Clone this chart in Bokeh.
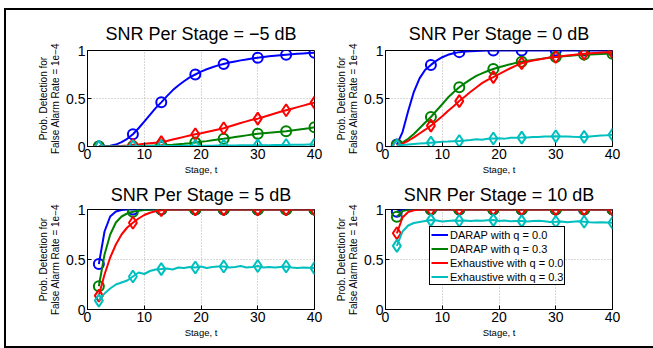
from bokeh.plotting import figure
from bokeh.layouts import row, column
from bokeh.models import Range1d, FixedTicker, Legend, LegendItem, Spacer
from bokeh.embed import file_html
from bokeh.resources import INLINE

# ---------------- data ----------------
t = list(range(2, 41))
marker_t = [2, 8, 13, 19, 24, 30, 35, 40]
x_ticks = [0, 10, 20, 30, 40]
y_ticks = [0, 0.5, 1]

series_names = ["DARAP with q = 0.0", "DARAP with q = 0.3",
                "Exhaustive with q = 0.0", "Exhaustive with q = 0.3"]
titles = ["SNR Per Stage = \u22125 dB", "SNR Per Stage = 0 dB",
          "SNR Per Stage = 5 dB", "SNR Per Stage = 10 dB"]

# SNR = -5 dB
blue_m5 = [0.0, 0.002, 0.008, 0.02, 0.045, 0.08, 0.127, 0.19, 0.26, 0.33, 0.40, 0.46, 0.525, 0.585,
           0.635, 0.68, 0.72, 0.75, 0.78, 0.805, 0.825, 0.845, 0.86, 0.874, 0.886, 0.897, 0.907,
           0.917, 0.925, 0.932, 0.939, 0.945, 0.951, 0.956, 0.961, 0.965, 0.969, 0.973, 0.976]
green_m5 = [0.0, 0.0, 0.0, 0.001, 0.001, 0.002, 0.003, 0.004, 0.006, 0.008, 0.01, 0.012, 0.015,
            0.019, 0.024, 0.029, 0.035, 0.042, 0.049, 0.056, 0.064, 0.072, 0.08, 0.089, 0.098,
            0.107, 0.116, 0.125, 0.133, 0.138, 0.143, 0.148, 0.153, 0.158, 0.166, 0.174, 0.182,
            0.19, 0.2]
red_m5 = [0.0, 0.0, 0.001, 0.003, 0.006, 0.011, 0.017, 0.022, 0.028, 0.034, 0.04, 0.046, 0.058,
          0.072, 0.086, 0.1, 0.114, 0.127, 0.139, 0.152, 0.164, 0.177, 0.19, 0.208, 0.226, 0.244,
          0.262, 0.278, 0.29, 0.308, 0.326, 0.344, 0.362, 0.378, 0.394, 0.41, 0.426, 0.442, 0.457]
cyan_m5 = [0.0, 0.0, 0.0, 0.001, 0.001, 0.002, 0.002, 0.003, 0.003, 0.004, 0.004, 0.005, 0.005,
           0.006, 0.006, 0.007, 0.007, 0.008, 0.008, 0.009, 0.009, 0.01, 0.01, 0.011, 0.011, 0.012,
           0.012, 0.013, 0.013, 0.014, 0.014, 0.015, 0.015, 0.016, 0.017, 0.018, 0.019, 0.02, 0.021]

# SNR = 0 dB
blue_0 = [0.02, 0.15, 0.37, 0.57, 0.71, 0.80, 0.85, 0.895, 0.93, 0.955, 0.972, 0.983, 0.989, 0.993,
          0.996, 0.998, 0.999, 1.0, 1.0, 1.0, 1.0, 1.0, 1.0, 1.0, 1.0, 1.0, 1.0, 1.0, 1.0, 1.0,
          1.0, 1.0, 1.0, 1.0, 1.0, 1.0, 1.0, 1.0, 1.0]
green_0 = [0.017, 0.04, 0.08, 0.13, 0.19, 0.25, 0.307, 0.375, 0.44, 0.51, 0.565, 0.617, 0.66, 0.70,
           0.735, 0.762, 0.786, 0.807, 0.825, 0.842, 0.857, 0.871, 0.883, 0.893, 0.902, 0.91,
           0.918, 0.926, 0.933, 0.938, 0.943, 0.948, 0.953, 0.957, 0.959, 0.961, 0.963, 0.965, 0.967]
red_0 = [0.01, 0.03, 0.06, 0.095, 0.135, 0.175, 0.217, 0.265, 0.315, 0.37, 0.42, 0.473, 0.52, 0.57,
         0.615, 0.66, 0.695, 0.723, 0.755, 0.785, 0.815, 0.843, 0.867, 0.882, 0.895, 0.907, 0.917,
         0.926, 0.933, 0.94, 0.947, 0.954, 0.961, 0.967, 0.971, 0.975, 0.978, 0.981, 0.983]
cyan_0 = [0.01, 0.015, 0.02, 0.025, 0.03, 0.035, 0.04, 0.045, 0.05, 0.052, 0.055, 0.057, 0.062,
          0.068, 0.075, 0.07, 0.08, 0.083, 0.085, 0.082, 0.09, 0.092, 0.093, 0.095, 0.1, 0.098,
          0.103, 0.105, 0.107, 0.104, 0.103, 0.101, 0.1, 0.1, 0.105, 0.11, 0.115, 0.118, 0.123]

# SNR = 5 dB
blue_5 = [0.454, 0.78, 0.93, 0.98, 0.995, 0.999, 1.0, 1.0, 1.0, 1.0, 1.0, 1.0, 1.0, 1.0, 1.0, 1.0,
          1.0, 1.0, 1.0, 1.0, 1.0, 1.0, 1.0, 1.0, 1.0, 1.0, 1.0, 1.0, 1.0, 1.0, 1.0, 1.0, 1.0, 1.0,
          1.0, 1.0, 1.0, 1.0, 1.0]
green_5 = [0.232, 0.55, 0.75, 0.87, 0.93, 0.96, 0.977, 0.988, 0.994, 0.997, 0.999, 1.0, 1.0, 1.0,
           1.0, 1.0, 1.0, 1.0, 1.0, 1.0, 1.0, 1.0, 1.0, 1.0, 1.0, 1.0, 1.0, 1.0, 1.0, 1.0, 1.0, 1.0,
           1.0, 1.0, 1.0, 1.0, 1.0, 1.0, 1.0]
red_5 = [0.139, 0.35, 0.52, 0.65, 0.75, 0.82, 0.868, 0.91, 0.945, 0.968, 0.983, 0.993, 0.997, 0.999,
         1.0, 1.0, 1.0, 1.0, 1.0, 1.0, 1.0, 1.0, 1.0, 1.0, 1.0, 1.0, 1.0, 1.0, 1.0, 1.0, 1.0, 1.0,
         1.0, 1.0, 1.0, 1.0, 1.0, 1.0, 1.0]
cyan_5 = [0.089, 0.16, 0.21, 0.25, 0.27, 0.29, 0.33, 0.37, 0.355, 0.385, 0.40, 0.404, 0.41, 0.40,
          0.42, 0.415, 0.425, 0.42, 0.43, 0.415, 0.425, 0.43, 0.43, 0.42, 0.425, 0.435, 0.42, 0.425,
          0.435, 0.42, 0.425, 0.42, 0.425, 0.43, 0.42, 0.415, 0.42, 0.418, 0.414]

# SNR = 10 dB
blue_10 = [0.977, 0.998, 1.0, 1.0, 1.0, 1.0, 1.0, 1.0, 1.0, 1.0, 1.0, 1.0, 1.0, 1.0, 1.0, 1.0, 1.0,
           1.0, 1.0, 1.0, 1.0, 1.0, 1.0, 1.0, 1.0, 1.0, 1.0, 1.0, 1.0, 1.0, 1.0, 1.0, 1.0, 1.0, 1.0,
           1.0, 1.0, 1.0, 1.0]
green_10 = [0.927, 0.985, 0.998, 1.0, 1.0, 1.0, 1.0, 1.0, 1.0, 1.0, 1.0, 1.0, 1.0, 1.0, 1.0, 1.0,
            1.0, 1.0, 1.0, 1.0, 1.0, 1.0, 1.0, 1.0, 1.0, 1.0, 1.0, 1.0, 1.0, 1.0, 1.0, 1.0, 1.0, 1.0,
            1.0, 1.0, 1.0, 1.0, 1.0]
red_10 = [0.762, 0.92, 0.975, 0.993, 0.998, 1.0, 1.0, 1.0, 1.0, 1.0, 1.0, 1.0, 1.0, 1.0, 1.0, 1.0,
          1.0, 1.0, 1.0, 1.0, 1.0, 1.0, 1.0, 1.0, 1.0, 1.0, 1.0, 1.0, 1.0, 1.0, 1.0, 1.0, 1.0, 1.0,
          1.0, 1.0, 1.0, 1.0, 1.0]
cyan_10 = [0.636, 0.78, 0.84, 0.865, 0.875, 0.885, 0.894, 0.89, 0.88, 0.885, 0.89, 0.887, 0.89,
           0.885, 0.89, 0.888, 0.892, 0.894, 0.885, 0.89, 0.882, 0.886, 0.884, 0.88, 0.885, 0.888,
           0.882, 0.875, 0.877, 0.88, 0.872, 0.878, 0.882, 0.877, 0.872, 0.87, 0.872, 0.87, 0.868]

panels = [
    [blue_m5, green_m5, red_m5, cyan_m5],
    [blue_0, green_0, red_0, cyan_0],
    [blue_5, green_5, red_5, cyan_5],
    [blue_10, green_10, red_10, cyan_10],
]

# ---------------- styles ----------------
colors = ["#0000ff", "#008000", "#ff0000", "#00bfbf"]
markers = ["circle", "circle", "diamond", "diamond"]
msizes = [10, 10, 12, 12]
FONT = "Liberation Sans"


def make_panel(title, data, w, h, bl, br, bt, bb, title_standoff, with_legend=False):
    p = figure(width=w, height=h, x_range=Range1d(0, 40), y_range=Range1d(0, 1),
               output_backend="svg", toolbar_location=None,
               min_border_left=bl, min_border_right=br,
               min_border_top=bt, min_border_bottom=bb,
               background_fill_color="white", border_fill_color="white")
    p.title.text = title
    p.title.text_font = FONT
    p.title.text_font_size = "18px"
    p.title.text_font_style = "normal"
    p.title.text_color = "black"
    p.title.align = "center"
    p.title.standoff = title_standoff

    p.xaxis.ticker = FixedTicker(ticks=x_ticks)
    p.yaxis.ticker = FixedTicker(ticks=y_ticks)
    p.yaxis.major_label_overrides = {0: "0", 0.5: "0.5", 1: "1"}
    p.xaxis.axis_label = "Stage, t"
    p.yaxis.axis_label = "Prob. Detection for\nFalse Alarm Rate = 1e\u22124"
    for ax in (p.xaxis[0], p.yaxis[0]):
        ax.major_tick_in = 4
        ax.major_tick_out = 0
        ax.minor_tick_in = 0
        ax.minor_tick_out = 0
        ax.axis_line_color = "black"
        ax.major_tick_line_color = "black"
        ax.major_label_text_font = FONT
        ax.major_label_text_font_size = "14px"
        ax.major_label_text_color = "black"
        ax.major_label_standoff = 2
        ax.axis_label_text_font = FONT
        ax.axis_label_text_font_style = "normal"
        ax.axis_label_text_color = "black"
        ax.axis_label_standoff = 2
    p.xaxis.axis_label_text_font_size = "9.5px"
    p.yaxis.axis_label_text_font_size = "10px"
    p.yaxis.axis_label_text_line_height = 1.05

    p.xgrid.ticker = FixedTicker(ticks=x_ticks)
    p.ygrid.ticker = FixedTicker(ticks=y_ticks)
    for g in (p.xgrid[0], p.ygrid[0]):
        g.grid_line_color = "#b0b0b0"
        g.grid_line_dash = "1 2"
        g.grid_line_width = 1

    p.outline_line_color = "black"
    p.outline_line_alpha = 1
    p.outline_line_width = 1

    items = []
    for vals, c, m, ms, name in zip(data, colors, markers, msizes, series_names):
        lr = p.line(t, vals, line_color=c, line_width=2)
        my = [vals[t.index(k)] for k in marker_t]
        p.scatter(marker_t, my, marker=m, size=ms, line_color=c, line_width=2, fill_alpha=0)
        items.append(LegendItem(label=name, renderers=[lr]))

    if with_legend:
        lg = Legend(items=items, location=(44, 24))
        lg.label_text_font = FONT
        lg.label_text_font_size = "11px"
        lg.label_text_color = "black"
        lg.border_line_color = "black"
        lg.border_line_width = 1
        lg.border_line_alpha = 1
        lg.background_fill_color = "white"
        lg.background_fill_alpha = 1
        lg.glyph_width = 17
        lg.glyph_height = 13
        lg.label_height = 13
        lg.label_standoff = 2
        lg.spacing = 1
        lg.padding = 1
        lg.margin = 0
        p.add_layout(lg)
    return p


p1 = make_panel(titles[0], panels[0], 326, 167, 81, 18, 40, 27, 14)
p2 = make_panel(titles[1], panels[1], 321, 167, 53, 41, 40, 27, 14)
p3 = make_panel(titles[2], panels[2], 326, 169, 81, 18, 32, 37, 9)
p4 = make_panel(titles[3], panels[3], 321, 169, 53, 41, 32, 37, 9, with_legend=True)

BLACK = {"background-color": "black"}
inner = column(Spacer(width=647, height=2, styles=BLACK),
               row(p1, p2), row(p3, p4),
               Spacer(width=647, height=2, styles=BLACK))
framed = row(Spacer(width=2, height=340, styles=BLACK), inner)
layout = column(Spacer(width=653, height=8),
                row(Spacer(width=4, height=340), framed))

open("out.html", "w").write(file_html(layout, INLINE))
